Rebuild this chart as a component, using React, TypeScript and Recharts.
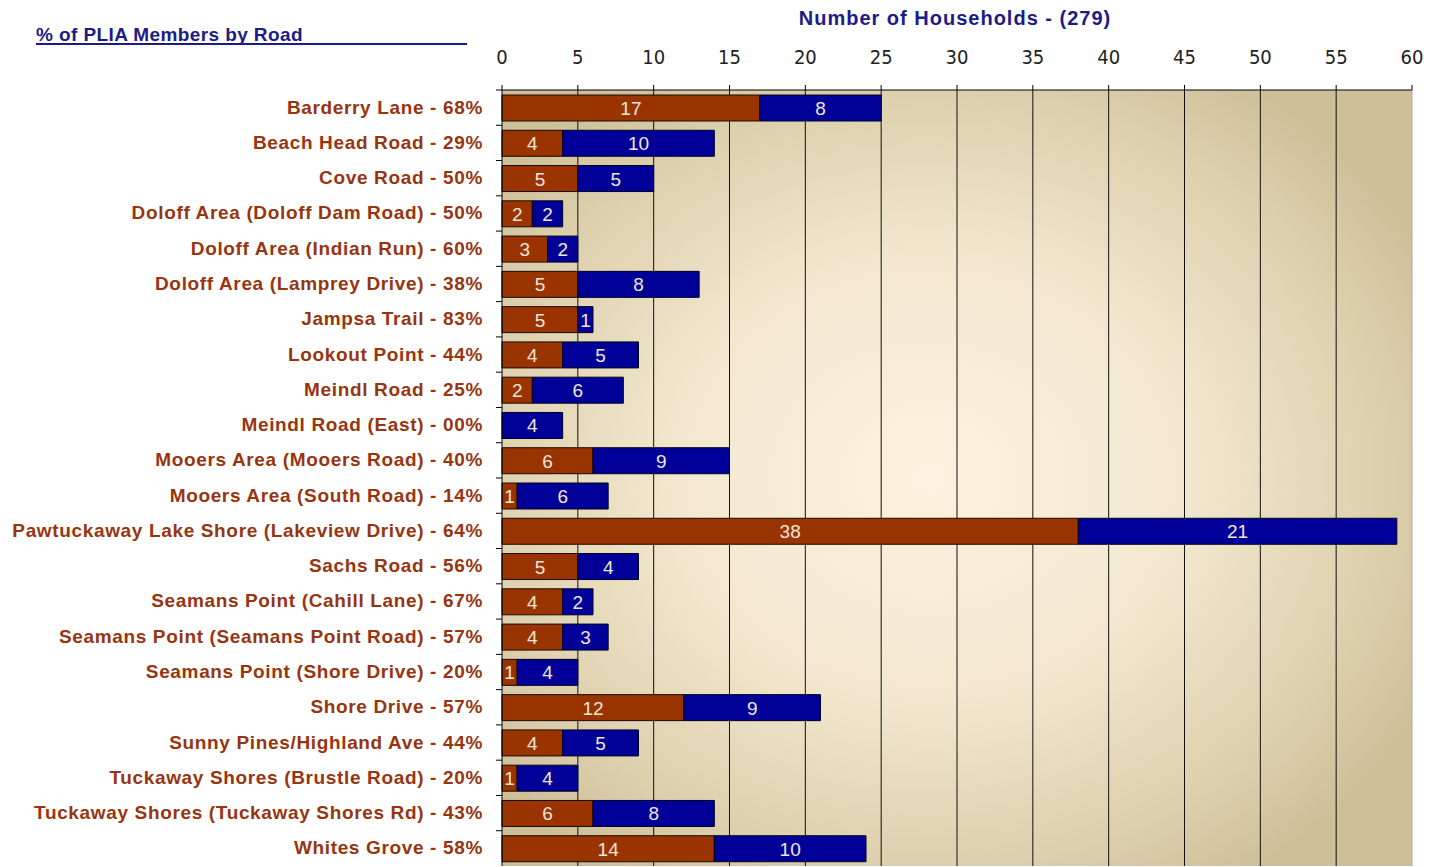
import { BarChart, Bar, XAxis, YAxis, CartesianGrid, LabelList, ReferenceLine } from 'recharts';

const roads = [
  'Barderry Lane - 68%',
  'Beach Head Road - 29%',
  'Cove Road - 50%',
  'Doloff Area (Doloff Dam Road) - 50%',
  'Doloff Area (Indian Run) - 60%',
  'Doloff Area (Lamprey Drive) - 38%',
  'Jampsa Trail - 83%',
  'Lookout Point - 44%',
  'Meindl Road - 25%',
  'Meindl Road (East) - 00%',
  'Mooers Area (Mooers Road) - 40%',
  'Mooers Area (South Road) - 14%',
  'Pawtuckaway Lake Shore (Lakeview Drive) - 64%',
  'Sachs Road - 56%',
  'Seamans Point (Cahill Lane) - 67%',
  'Seamans Point (Seamans Point Road) - 57%',
  'Seamans Point (Shore Drive) - 20%',
  'Shore Drive - 57%',
  'Sunny Pines/Highland Ave - 44%',
  'Tuckaway Shores (Brustle Road) - 20%',
  'Tuckaway Shores (Tuckaway Shores Rd) - 43%',
  'Whites Grove - 58%',
];
const members = [17, 4, 5, 2, 3, 5, 5, 4, 2, 0, 6, 1, 38, 5, 4, 4, 1, 12, 4, 1, 6, 14];
const nonMembers = [8, 10, 5, 2, 2, 8, 1, 5, 6, 4, 9, 6, 21, 4, 2, 3, 4, 9, 5, 4, 8, 10];
const xTicks = [0, 5, 10, 15, 20, 25, 30, 35, 40, 45, 50, 55, 60];
const gridValues = [5, 10, 15, 20, 25, 30, 35, 40, 45, 50, 55];

const data = roads.map((name, i) => ({ name, members: members[i], nonMembers: nonMembers[i] }));

const PLOT_LEFT = 502;
const PLOT_TOP = 90;
const PLOT_BOTTOM = 866;
const BAND = (PLOT_BOTTOM - PLOT_TOP) / roads.length;
const SANS = 'Liberation Sans, Arial, sans-serif';

const RoadTick = (props: any) => {
  const { y, payload } = props;
  const top = y - BAND / 2;
  return (
    <g>
      <line x1={PLOT_LEFT - 6} x2={PLOT_LEFT} y1={top} y2={top} stroke="#000" />
      <text
        x={483}
        y={y}
        dy={6}
        textAnchor="end"
        fontFamily={SANS}
        fontWeight="bold"
        fontSize={19}
        letterSpacing={0.65}
        fill="#973510"
      >
        {payload.value}
      </text>
    </g>
  );
};

const SegmentLabel = (props: any) => {
  const { x, y, width, height, value } = props;
  return (
    <text
      x={x + width / 2}
      y={y + height / 2}
      dy={7}
      textAnchor="middle"
      fontFamily={SANS}
      fontSize={19}
      fill="#f2e6da"
    >
      {value}
    </text>
  );
};

export default function App() {
  return (
    <div style={{ position: 'absolute', left: 0, top: 0, width: 1439, height: 867, background: '#fff', overflow: 'hidden' }}>
      <div
        style={{
          position: 'absolute',
          left: 755,
          top: 7,
          width: 400,
          textAlign: 'center',
          fontFamily: SANS,
          fontWeight: 'bold',
          fontSize: 20,
          letterSpacing: 1,
          color: '#1c1c86',
          whiteSpace: 'nowrap',
        }}
      >
        Number of Households - (279)
      </div>
      <div
        style={{
          position: 'absolute',
          left: 36,
          top: 26,
          width: 431,
          borderBottom: '2px solid #1c1c86',
          fontFamily: SANS,
          fontWeight: 'bold',
          fontSize: 19,
          letterSpacing: 0.4,
          color: '#1c1c86',
          lineHeight: '17px',
          whiteSpace: 'nowrap',
        }}
      >
        % of PLIA Members by Road
      </div>
      <BarChart
        width={1439}
        height={867}
        data={data}
        layout="vertical"
        barSize={26}
        margin={{ top: PLOT_TOP - 30, right: 27, bottom: 867 - PLOT_BOTTOM, left: 0 }}
      >
        <defs>
          <radialGradient id="plotBg" cx="0.47" cy="0.5" r="0.62">
            <stop offset="0" stopColor="#fcf2df" />
            <stop offset="0.45" stopColor="#f3e8cf" />
            <stop offset="0.8" stopColor="#ddd0ad" />
            <stop offset="1" stopColor="#cdbf98" />
          </radialGradient>
        </defs>
        <CartesianGrid horizontal={false} verticalValues={gridValues} stroke="#111" fill="url(#plotBg)" />
        <ReferenceLine x={60} stroke="#b3ab98" />
        <XAxis
          type="number"
          orientation="top"
          domain={[0, 60]}
          ticks={xTicks}
          interval={0}
          height={30}
          tickSize={5}
          tickMargin={21}
          axisLine={{ stroke: '#000' }}
          tickLine={{ stroke: '#000' }}
          tick={{ fontSize: 20, fill: '#222', fontFamily: 'DejaVu Sans Condensed, DejaVu Sans, sans-serif' }}
        />
        <YAxis
          type="category"
          dataKey="name"
          width={PLOT_LEFT}
          interval={0}
          tickLine={false}
          axisLine={{ stroke: '#000' }}
          tick={<RoadTick />}
        />
        <Bar dataKey="members" stackId="a" fill="#993300" stroke="#1a0a00" strokeWidth={1} isAnimationActive={false}>
          <LabelList dataKey="members" content={<SegmentLabel />} />
        </Bar>
        <Bar dataKey="nonMembers" stackId="a" fill="#000099" stroke="#000020" strokeWidth={1} isAnimationActive={false}>
          <LabelList dataKey="nonMembers" content={<SegmentLabel />} />
        </Bar>
      </BarChart>
    </div>
  );
}
